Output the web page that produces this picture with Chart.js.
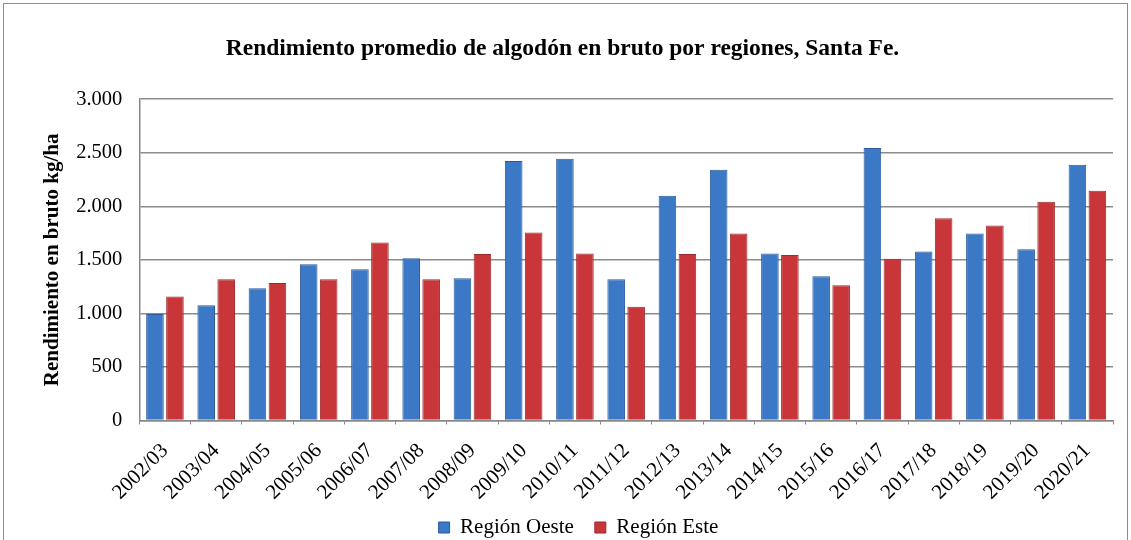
<!DOCTYPE html>
<html>
<head>
<meta charset="utf-8">
<script src="https://cdn.jsdelivr.net/npm/chart.js@4.4.0/dist/chart.umd.min.js"></script>
<style>
html,body{margin:0;padding:0;background:#fff;overflow:hidden;}
#wrap{position:absolute;left:3px;top:3px;width:1123px;height:540px;border:1px solid #8c8c8c;}
canvas{display:block;}
</style>
</head>
<body>
<div id="wrap"><canvas id="c" width="1123" height="540"></canvas></div>
<script>
const categories = ["2002/03","2003/04","2004/05","2005/06","2006/07","2007/08","2008/09","2009/10","2010/11","2011/12","2012/13","2013/14","2014/15","2015/16","2016/17","2017/18","2018/19","2019/20","2020/21"];
const oeste = [995,1075,1235,1458,1412,1514,1328,2424,2443,1319,2099,2341,1560,1347,2545,1579,1746,1598,2387];
const este  = [1158,1319,1285,1320,1662,1320,1554,1755,1560,1063,1554,1746,1545,1263,1511,1888,1820,2043,2146];
const yTicks = [0,500,1000,1500,2000,2500,3000];
const seriesNames = ["Región Oeste","Región Este"];

function fmt(v){ return String(v).replace(/\B(?=(\d{3})+(?!\d))/g, "."); }

function barGrad(base, light, dark){
  return function(ctx){
    const chart = ctx.chart;
    const el = ctx.element;
    if(!el || !chart.chartArea || el.x === undefined || el.width === undefined) return base;
    const x0 = el.x - el.width/2, x1 = el.x + el.width/2;
    if(!isFinite(x0) || !isFinite(x1) || x1 <= x0) return base;
    const g = chart.ctx.createLinearGradient(x0,0,x1,0);
    g.addColorStop(0, dark);
    g.addColorStop(0.35, light);
    g.addColorStop(0.6, base);
    g.addColorStop(1, dark);
    return g;
  };
}

const legendShift = {
  id: 'legendShift',
  afterLayout(chart){
    if(chart.legend){ chart.legend.left += 16; chart.legend.right += 16; }
  }
};

Chart.defaults.font.family = "'Liberation Serif','Times New Roman',serif";
Chart.defaults.color = "#000";

new Chart(document.getElementById('c'), {
  type: 'bar',
  data: {
    labels: categories,
    datasets: [
      {label: seriesNames[0], data: oeste, backgroundColor: barGrad('#3b78c6','#4f8ad6','#234f8e'), borderColor:'#2a5a9a', borderWidth:1, categoryPercentage:0.78, barPercentage:0.88},
      {label: seriesNames[1], data: este, backgroundColor: barGrad('#c9363a','#d9484b','#8f2225'), borderColor:'#9c2b2d', borderWidth:1, categoryPercentage:0.78, barPercentage:0.88}
    ]
  },
  plugins: [legendShift],
  options: {
    responsive: false,
    animation: false,
    layout: {padding: {left: 8, right: 14, top: 0, bottom: -4}},
    plugins: {
      title: {display: true, text: 'Rendimiento promedio de algodón en bruto por regiones, Santa Fe.', font: {size: 23.5, weight: 'bold'}, color:'#000', padding: {top: 31, bottom: 36}},
      legend: {position: 'bottom', labels: {boxWidth: 11, boxHeight: 11, font: {size: 21}, color:'#000', padding: 0,
        generateLabels: function(chart){
          return [
            {text: seriesNames[0] + '\u2003', fillStyle:'#3b78c6', strokeStyle:'#2a5a9a', lineWidth:1, datasetIndex:0},
            {text: seriesNames[1], fillStyle:'#c9363a', strokeStyle:'#9c2b2d', lineWidth:1, datasetIndex:1}
          ];
        }}},
      tooltip: {enabled: false}
    },
    scales: {
      x: {
        grid: {display: true, drawOnChartArea: false, drawTicks: true, tickLength: 4, color:'#888', offset: true},
        border: {display: true, color:'#888', width: 1.5},
        ticks: {font: {size: 21}, color:'#000', maxRotation: 45, minRotation: 45, padding: 14, autoSkip: false},
        afterFit: function(axis){ axis.height -= 2; }
      },
      y: {
        min: 0, max: 3000,
        afterBuildTicks: function(axis){ axis.ticks = yTicks.map(v => ({value: v})); },
        grid: {color: '#8c8c8c', lineWidth: 1.5, drawTicks: false},
        border: {display: true, color:'#888', width: 1.5},
        ticks: {font: {size: 20.5}, color:'#000', padding: 17, callback: v => fmt(v)},
        title: {display: true, text: 'Rendimiento en bruto kg/ha', font: {size: 21, weight: 'bold'}, color:'#000', padding: {top: 28, bottom: -6}}
      }
    }
  }
});
</script>
</body>
</html>
